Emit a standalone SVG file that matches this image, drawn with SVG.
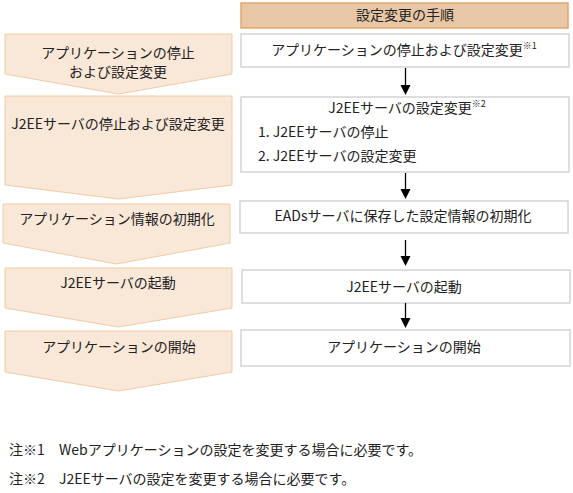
<svg xmlns="http://www.w3.org/2000/svg" width="573" height="493" viewBox="0 0 573 493">
<style>
text{font-family:"Noto Sans CJK JP","Noto Sans",sans-serif;font-size:14px;fill:#222}
.c{text-anchor:middle}
.sup{font-size:9px}
.step{fill:#F9E7D7;stroke:#F1CBA6;stroke-width:1}
.box{fill:#fff;stroke:#D4D4D4;stroke-width:1.5}
.hdr{fill:#E8C7A6;stroke:#E2A56E;stroke-width:1.5}
.ln{stroke:#000;stroke-width:1.3;fill:none}
.hd{fill:#000}
</style>
<g id="header">
<rect class="hdr" x="241" y="3" width="327" height="25"/>
<text class="c" x="405" y="20">設定変更の手順</text>
</g>
<g id="phase1">
<path class="step" d="M5,34 L232,34 L232,74 L118.5,94 L5,74 Z"/>
<text class="c" x="118" y="58">アプリケーションの停止</text>
<text class="c" x="118" y="77">および設定変更</text>
</g>
<g id="phase2">
<path class="step" d="M5,96 L232,96 L232,185 L118.5,199 L5,185 Z"/>
<text class="c" x="118" y="129">J2EEサーバの停止および設定変更</text>
</g>
<g id="phase3">
<path class="step" d="M3,204 L230,204 L230,243 L116.5,264 L3,243 Z"/>
<text class="c" x="117" y="224">アプリケーション情報の初期化</text>
</g>
<g id="phase4">
<path class="step" d="M5,268 L232,268 L232,308 L118.5,327 L5,308 Z"/>
<text class="c" x="118" y="288">J2EEサーバの起動</text>
</g>
<g id="phase5">
<path class="step" d="M5,331 L232,331 L232,372 L118.5,391 L5,372 Z"/>
<text class="c" x="119" y="352">アプリケーションの開始</text>
</g>
<g id="step1">
<rect class="box" x="241" y="34" width="328" height="33"/>
<text class="c" x="404" y="55">アプリケーションの停止および設定変更<tspan class="sup" dy="-6">※1</tspan></text>
</g>
<g id="step2">
<rect class="box" x="241" y="97" width="328" height="75"/>
<text class="c" x="407" y="113">J2EEサーバの設定変更<tspan class="sup" dy="-6">※2</tspan></text>
<text x="258" y="137">1. J2EEサーバの停止</text>
<text x="258" y="161">2. J2EEサーバの設定変更</text>
</g>
<g id="step3">
<rect class="box" x="240" y="201" width="328" height="32"/>
<text class="c" x="403" y="221">EADsサーバに保存した設定情報の初期化</text>
</g>
<g id="step4">
<rect class="box" x="242" y="270" width="328" height="33"/>
<text class="c" x="404" y="292">J2EEサーバの起動</text>
</g>
<g id="step5">
<rect class="box" x="241" y="330" width="329" height="36"/>
<text class="c" x="404" y="352">アプリケーションの開始</text>
</g>
<g id="connectors">
<line class="ln" x1="405.5" y1="68" x2="405.5" y2="86"/>
<polygon class="hd" points="400.5,85 410.5,85 405.5,95"/>
<line class="ln" x1="405.5" y1="173" x2="405.5" y2="190"/>
<polygon class="hd" points="400.5,189 410.5,189 405.5,199"/>
<line class="ln" x1="405.5" y1="240" x2="405.5" y2="257"/>
<polygon class="hd" points="400.5,256 410.5,256 405.5,266"/>
<line class="ln" x1="405.5" y1="303" x2="405.5" y2="319"/>
<polygon class="hd" points="400.5,318 410.5,318 405.5,328"/>
</g>
<g id="notes">
<text x="9" y="455">注※1</text>
<text x="59" y="455">Webアプリケーションの設定を変更する場合に必要です。</text>
<text x="9" y="484">注※2</text>
<text x="59" y="484">J2EEサーバの設定を変更する場合に必要です。</text>
</g>
</svg>
